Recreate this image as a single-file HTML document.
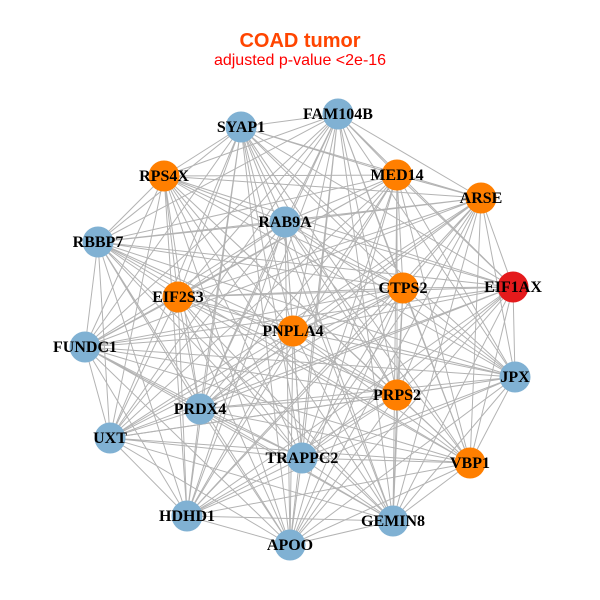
<!DOCTYPE html>
<html><head><meta charset="utf-8"><style>
html,body{margin:0;padding:0;background:#fff;}
svg{display:block;}
.t{font-family:"Liberation Serif",serif;font-weight:bold;font-size:16px;fill:#000;text-anchor:middle;}
</style></head><body>
<svg width="600" height="600" viewBox="0 0 600 600" xmlns="http://www.w3.org/2000/svg">
<rect width="600" height="600" fill="#fff"/>
<text x="300" y="47" text-anchor="middle" style="font-family:'Liberation Sans',sans-serif;font-weight:bold;font-size:20px;fill:#ff4500">COAD tumor</text>
<text x="300" y="65" text-anchor="middle" style="font-family:'Liberation Sans',sans-serif;font-size:16px;fill:#ff0000">adjusted p-value &lt;2e-16</text>
<g fill="none" stroke="#b3b3b3" stroke-width="1">
<path d="M241 127L338 114M241 127L164 176M241 127L397 175M241 127L481 198M241 127L285 222M241 127L98 242M241 127L403 288M241 127L513 287M241 127L178 297M241 127L293 331M241 127L85 347M241 127L515 377M241 127L397 395M241 127L200 409M241 127L110 438M241 127L302 458M241 127L470 463M241 127L187 516M241 127L393 521M241 127L290 545"/>
<path d="M338 114L164 176M338 114L397 175M338 114L481 198M338 114L285 222M338 114L98 242M338 114L403 288M338 114L513 287M338 114L178 297M338 114L293 331M338 114L85 347M338 114L515 377M338 114L397 395M338 114L200 409M338 114L110 438M338 114L302 458M338 114L470 463M338 114L187 516M338 114L393 521M338 114L290 545"/>
<path d="M164 176L397 175M164 176L481 198M164 176L285 222M164 176L98 242M164 176L403 288M164 176L513 287M164 176L178 297M164 176L293 331M164 176L85 347M164 176L515 377M164 176L397 395M164 176L200 409M164 176L110 438M164 176L302 458M164 176L470 463M164 176L187 516M164 176L393 521M164 176L290 545"/>
<path d="M397 175L481 198M397 175L285 222M397 175L98 242M397 175L403 288M397 175L513 287M397 175L178 297M397 175L293 331M397 175L85 347M397 175L515 377M397 175L397 395M397 175L200 409M397 175L110 438M397 175L302 458M397 175L470 463M397 175L187 516M397 175L393 521M397 175L290 545"/>
<path d="M481 198L285 222M481 198L98 242M481 198L403 288M481 198L513 287M481 198L178 297M481 198L293 331M481 198L85 347M481 198L515 377M481 198L397 395M481 198L200 409M481 198L110 438M481 198L302 458M481 198L470 463M481 198L187 516M481 198L393 521M481 198L290 545"/>
<path d="M285 222L98 242M285 222L403 288M285 222L513 287M285 222L178 297M285 222L293 331M285 222L85 347M285 222L515 377M285 222L397 395M285 222L200 409M285 222L110 438M285 222L302 458M285 222L470 463M285 222L187 516M285 222L393 521M285 222L290 545"/>
<path d="M98 242L403 288M98 242L513 287M98 242L178 297M98 242L293 331M98 242L85 347M98 242L515 377M98 242L397 395M98 242L200 409M98 242L110 438M98 242L302 458M98 242L470 463M98 242L187 516M98 242L393 521M98 242L290 545"/>
<path d="M403 288L513 287M403 288L178 297M403 288L293 331M403 288L85 347M403 288L515 377M403 288L397 395M403 288L200 409M403 288L110 438M403 288L302 458M403 288L470 463M403 288L187 516M403 288L393 521M403 288L290 545"/>
<path d="M513 287L178 297M513 287L293 331M513 287L85 347M513 287L515 377M513 287L397 395M513 287L200 409M513 287L110 438M513 287L302 458M513 287L470 463M513 287L187 516M513 287L393 521M513 287L290 545"/>
<path d="M178 297L293 331M178 297L85 347M178 297L515 377M178 297L397 395M178 297L200 409M178 297L110 438M178 297L302 458M178 297L470 463M178 297L187 516M178 297L393 521M178 297L290 545"/>
<path d="M293 331L85 347M293 331L515 377M293 331L397 395M293 331L200 409M293 331L110 438M293 331L302 458M293 331L470 463M293 331L187 516M293 331L393 521M293 331L290 545"/>
<path d="M85 347L515 377M85 347L397 395M85 347L200 409M85 347L110 438M85 347L302 458M85 347L470 463M85 347L187 516M85 347L393 521M85 347L290 545"/>
<path d="M515 377L397 395M515 377L200 409M515 377L110 438M515 377L302 458M515 377L470 463M515 377L187 516M515 377L393 521M515 377L290 545"/>
<path d="M397 395L200 409M397 395L110 438M397 395L302 458M397 395L470 463M397 395L187 516M397 395L393 521M397 395L290 545"/>
<path d="M200 409L110 438M200 409L302 458M200 409L470 463M200 409L187 516M200 409L393 521M200 409L290 545"/>
<path d="M110 438L302 458M110 438L470 463M110 438L187 516M110 438L393 521M110 438L290 545"/>
<path d="M302 458L470 463M302 458L187 516M302 458L393 521M302 458L290 545"/>
<path d="M470 463L187 516M470 463L393 521M470 463L290 545"/>
<path d="M187 516L393 521M187 516L290 545M393 521L290 545"/>
</g>
<g>
<circle cx="241" cy="127" r="15.5" fill="#80b1d3"/>
<circle cx="338" cy="114" r="15.5" fill="#80b1d3"/>
<circle cx="164" cy="176" r="15.5" fill="#ff7f00"/>
<circle cx="397" cy="175" r="15.5" fill="#ff7f00"/>
<circle cx="481" cy="198" r="15.5" fill="#ff7f00"/>
<circle cx="285" cy="222" r="15.5" fill="#80b1d3"/>
<circle cx="98" cy="242" r="15.5" fill="#80b1d3"/>
<circle cx="403" cy="288" r="15.5" fill="#ff7f00"/>
<circle cx="513" cy="287" r="15.5" fill="#e41a1c"/>
<circle cx="178" cy="297" r="15.5" fill="#ff7f00"/>
<circle cx="293" cy="331" r="15.5" fill="#ff7f00"/>
<circle cx="85" cy="347" r="15.5" fill="#80b1d3"/>
<circle cx="515" cy="377" r="15.5" fill="#80b1d3"/>
<circle cx="397" cy="395" r="15.5" fill="#ff7f00"/>
<circle cx="200" cy="409" r="15.5" fill="#80b1d3"/>
<circle cx="110" cy="438" r="15.5" fill="#80b1d3"/>
<circle cx="302" cy="458" r="15.5" fill="#80b1d3"/>
<circle cx="470" cy="463" r="15.5" fill="#ff7f00"/>
<circle cx="187" cy="516" r="15.5" fill="#80b1d3"/>
<circle cx="393" cy="521" r="15.5" fill="#80b1d3"/>
<circle cx="290" cy="545" r="15.5" fill="#80b1d3"/>
</g>
<g class="t">
<text class="t" x="241" y="132">SYAP1</text>
<text class="t" x="338" y="119">FAM104B</text>
<text class="t" x="164" y="181">RPS4X</text>
<text class="t" x="397" y="180">MED14</text>
<text class="t" x="481" y="203">ARSE</text>
<text class="t" x="285" y="227">RAB9A</text>
<text class="t" x="98" y="247">RBBP7</text>
<text class="t" x="403" y="293">CTPS2</text>
<text class="t" x="513" y="292">EIF1AX</text>
<text class="t" x="178" y="302">EIF2S3</text>
<text class="t" x="293" y="336">PNPLA4</text>
<text class="t" x="85" y="352">FUNDC1</text>
<text class="t" x="515" y="382">JPX</text>
<text class="t" x="397" y="400">PRPS2</text>
<text class="t" x="200" y="414">PRDX4</text>
<text class="t" x="110" y="443">UXT</text>
<text class="t" x="302" y="463">TRAPPC2</text>
<text class="t" x="470" y="468">VBP1</text>
<text class="t" x="187" y="521">HDHD1</text>
<text class="t" x="393" y="526">GEMIN8</text>
<text class="t" x="290" y="550">APOO</text>
</g>
</svg>
</body></html>
